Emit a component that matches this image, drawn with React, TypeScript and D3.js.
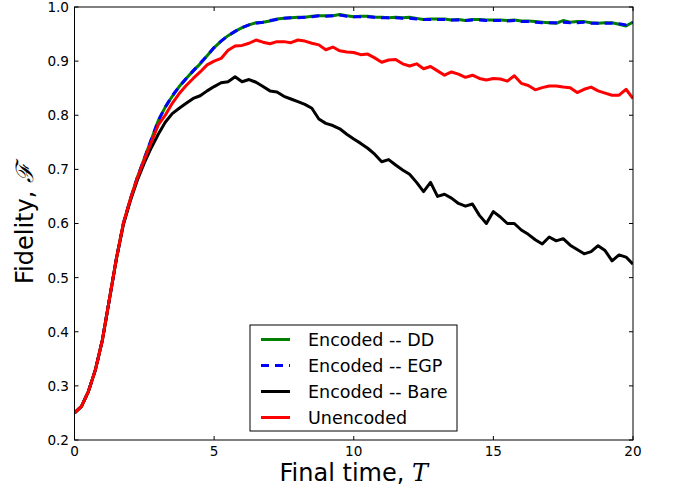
import React from "react";
import * as d3 from "d3";

const T = [0,0.25,0.5,0.75,1,1.25,1.5,1.75,2,2.25,2.5,2.75,3,3.25,3.5,3.75,4,4.25,4.5,4.75,5,5.25,5.5,5.75,6,6.25,6.5,6.75,7,7.25,7.5,7.75,8,8.25,8.5,8.75,9,9.25,9.5,9.75,10,10.25,10.5,10.75,11,11.25,11.5,11.75,12,12.25,12.5,12.75,13,13.25,13.5,13.75,14,14.25,14.5,14.75,15,15.25,15.5,15.75,16,16.25,16.5,16.75,17,17.25,17.5,17.75,18,18.25,18.5,18.75,19,19.25,19.5,19.75,20];

const encodedDD = [0.25,0.262,0.29,0.33,0.385,0.46,0.535,0.6,0.645,0.685,0.72,0.755,0.79,0.815,0.835,0.853,0.868,0.882,0.895,0.91,0.925,0.937,0.947,0.955,0.962,0.967,0.971,0.972,0.974,0.978,0.979,0.98,0.981,0.981,0.983,0.984,0.984,0.984,0.986,0.984,0.982,0.983,0.983,0.981,0.981,0.98,0.981,0.98,0.981,0.979,0.977,0.978,0.978,0.978,0.976,0.977,0.975,0.977,0.977,0.976,0.976,0.976,0.975,0.976,0.974,0.974,0.973,0.972,0.971,0.97,0.975,0.972,0.973,0.973,0.971,0.97,0.971,0.971,0.968,0.965,0.972];

const encodedEGP = [0.25,0.262,0.29,0.33,0.385,0.46,0.535,0.6,0.645,0.685,0.72,0.755,0.79,0.815,0.836,0.853,0.868,0.882,0.896,0.91,0.925,0.937,0.947,0.955,0.962,0.967,0.97,0.972,0.975,0.977,0.979,0.98,0.98,0.981,0.982,0.984,0.983,0.984,0.985,0.983,0.982,0.982,0.982,0.981,0.98,0.98,0.98,0.979,0.979,0.978,0.977,0.977,0.977,0.977,0.976,0.976,0.975,0.976,0.976,0.975,0.975,0.975,0.974,0.975,0.973,0.973,0.972,0.971,0.971,0.971,0.972,0.971,0.971,0.972,0.97,0.97,0.97,0.97,0.969,0.967,0.971];

const encodedBare = [0.25,0.262,0.29,0.33,0.385,0.46,0.535,0.598,0.642,0.68,0.712,0.74,0.765,0.787,0.803,0.813,0.822,0.831,0.836,0.845,0.853,0.86,0.862,0.871,0.862,0.866,0.861,0.853,0.845,0.843,0.835,0.83,0.825,0.82,0.813,0.793,0.785,0.781,0.775,0.765,0.756,0.748,0.739,0.728,0.714,0.718,0.708,0.699,0.691,0.676,0.659,0.676,0.65,0.654,0.647,0.637,0.632,0.636,0.615,0.6,0.622,0.612,0.6,0.6,0.588,0.58,0.57,0.562,0.575,0.568,0.572,0.56,0.552,0.544,0.548,0.559,0.55,0.531,0.542,0.538,0.525];

const unencoded = [0.25,0.262,0.29,0.33,0.385,0.46,0.535,0.6,0.645,0.684,0.718,0.75,0.782,0.8,0.822,0.84,0.855,0.868,0.88,0.893,0.9,0.905,0.92,0.928,0.929,0.933,0.939,0.935,0.932,0.936,0.936,0.934,0.939,0.937,0.933,0.93,0.921,0.926,0.919,0.917,0.916,0.912,0.913,0.906,0.898,0.902,0.903,0.895,0.891,0.895,0.886,0.89,0.882,0.874,0.88,0.876,0.87,0.874,0.868,0.865,0.868,0.867,0.863,0.873,0.859,0.855,0.847,0.851,0.854,0.854,0.852,0.851,0.842,0.848,0.852,0.845,0.841,0.837,0.837,0.848,0.831];

const xTicks = [0, 5, 10, 15, 20];
const yTicks = [0.2, 0.3, 0.4, 0.5, 0.6, 0.7, 0.8, 0.9, 1.0];
const legendLabels = ["Encoded -- DD", "Encoded -- EGP", "Encoded -- Bare", "Unencoded"];

const W = 678, H = 490;
const left = 74.5, right = 633, top = 7, bottom = 440;

export default function App() {
  const x = d3.scaleLinear().domain([0, 20]).range([left, right]);
  const y = d3.scaleLinear().domain([0.2, 1.0]).range([bottom, top]);
  const line = (vals: number[]) =>
    d3.line<number>().x((_, i) => x(T[i])).y((v) => y(v))(vals) || "";

  const series = [
    { vals: encodedDD, color: "#008000", dash: undefined },
    { vals: encodedEGP, color: "#0000ff", dash: "8,6" },
    { vals: encodedBare, color: "#000000", dash: undefined },
    { vals: unencoded, color: "#ff0000", dash: undefined },
  ];
  const font = "'DejaVu Sans', sans-serif";
  const tl = 4;
  const legX = 250, legY = 325, legW = 207, legH = 106;

  return (
    <svg width={W} height={H} style={{ position: "absolute", left: 0, top: 0, background: "#fff" }}>
      <rect x={0} y={0} width={W} height={H} fill="#fff" />
      <defs>
        <clipPath id="plot">
          <rect x={left} y={top} width={right - left} height={bottom - top} />
        </clipPath>
      </defs>
      <g clipPath="url(#plot)">
        {series.map((s, i) => (
          <path key={i} d={line(s.vals)} fill="none" stroke={s.color} strokeWidth={3}
            strokeDasharray={s.dash} strokeLinejoin="round" />
        ))}
      </g>
      <rect x={left} y={top} width={right - left} height={bottom - top} fill="none" stroke="#000" strokeWidth={1} />
      {xTicks.map((t) => (
        <g key={"x" + t}>
          <line x1={x(t)} x2={x(t)} y1={bottom} y2={bottom - tl} stroke="#000" />
          <line x1={x(t)} x2={x(t)} y1={top} y2={top + tl} stroke="#000" />
          <text x={x(t)} y={456} fontSize={13.6} fontFamily={font} textAnchor="middle">{t}</text>
        </g>
      ))}
      {yTicks.map((t) => (
        <g key={"y" + t}>
          <line x1={left} x2={left + tl} y1={y(t)} y2={y(t)} stroke="#000" />
          <line x1={right} x2={right - tl} y1={y(t)} y2={y(t)} stroke="#000" />
          <text x={69} y={y(t)} dy="0.36em" fontSize={13.6} fontFamily={font} textAnchor="end">{t.toFixed(1)}</text>
        </g>
      ))}
      <text x={(left + right) / 2} y={481} fontSize={24} fontFamily={font} textAnchor="middle">
        Final time, <tspan fontFamily="'DejaVu Serif', serif" fontStyle="italic">T</tspan>
      </text>
      <text transform={`translate(33,${(top + bottom) / 2}) rotate(-90)`} fontSize={24} fontFamily={font} textAnchor="middle">
        Fidelity, <tspan fontFamily="'DejaVu Serif', serif" fontStyle="italic">ℱ</tspan>
      </text>
      <rect x={legX} y={legY} width={legW} height={legH} fill="#fff" stroke="#000" strokeWidth={1} />
      {legendLabels.map((lab, i) => {
        const cy = 339.5 + i * 26;
        const s = series[i];
        return (
          <g key={lab}>
            <line x1={261} x2={290} y1={cy} y2={cy} stroke={s.color} strokeWidth={3} strokeDasharray={s.dash} />
            <text x={308} y={cy} dy="0.36em" fontSize={17.5} fontFamily={font}>{lab}</text>
          </g>
        );
      })}
    </svg>
  );
}
